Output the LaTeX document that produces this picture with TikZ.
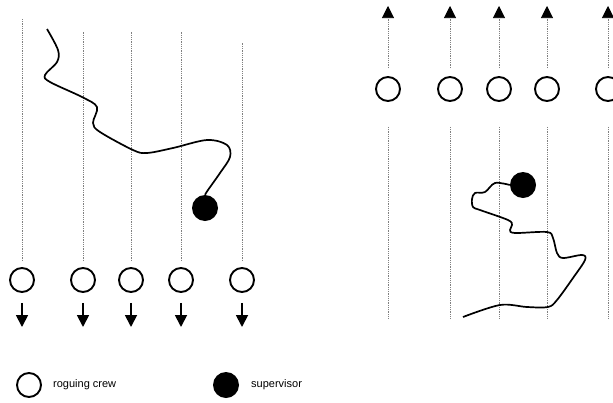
\documentclass[tikz,border=0pt]{standalone}
\usepackage{fontspec}
\setmainfont{Liberation Sans}
\usetikzlibrary{arrows.meta}

\tikzset{
  crew/.style={circle, draw, line width=1.9pt, minimum size=24pt, inner sep=0pt},
  boss/.style={circle, fill, minimum size=26pt, inner sep=0pt},
  row/.style={gray, line width=0.6pt, dash pattern=on 0.8pt off 1pt},
  tip/.style={-{Triangle[length=12pt,width=12pt,black]}},
  walk/.style={line width=1.8pt, tip},
  track/.style={line width=1.7pt},
  legend/.style={font=\fontsize{11}{13}\selectfont, anchor=west, inner sep=0pt}
}

\begin{document}
\begin{tikzpicture}[x=1pt, y=-1pt]
  \clip (0,0) rectangle (613,402);
  % left field: crew walks down, supervisor wanders behind
  \foreach \x/\t [count=\i] in {22/19,83/32,131/32,181/31,242/43} {
    \node[crew] (l\i) at (\x,280) {};
    \coordinate (lt\i) at (\x,\t);
    \coordinate (la\i) at (\x,327);
    \draw[row, shorten <=6pt] (l\i) -- (lt\i);
    \draw[walk, shorten <=10pt] (l\i) -- (la\i);
  }
  \node[boss] (ls) at (205,208) {};
  \draw[track] plot[smooth, tension=0.55] coordinates {(47,29) (58,50) (57,62) (45,75) (50,82)
    (82,97) (97,107) (93,123) (100,132) (133,150) (147,153) (173,148) (207,140)
    (227,145) (230,157) (220,173) (208,190) (ls.north)};

  % right field: crew walks up
  \foreach \x [count=\i] in {388,450,499,547,608} {
    \node[crew] (r\i) at (\x,89) {};
    \coordinate (rt\i) at (\x,6);
    \coordinate (rb\i) at (\x,318);
    \draw[row, tip, shorten <=8pt] (r\i) -- (rt\i);
    \draw[row, shorten <=25pt] (r\i) -- (rb\i);
  }
  \node[boss] (rs) at (523,185) {};
  \draw[track] plot[smooth, tension=0.55] coordinates {(rs.west) (495,183) (485,192) (475,193)
    (472,199) (473,207) (480,210) (508,220) (512,225) (510,230) (515,233) (547,232)
    (553,238) (557,253) (563,258) (582,255) (585,260) (573,278) (557,300) (548,307)
    (527,307) (500,305) (463,317)};

  % legend
  \node[crew] (kc) at (29,385) {};
  \node[legend] (kct) at (53,385) {roguing crew};
  \node[boss] (ks) at (226,385) {};
  \node[legend] (kst) at (251,385) {supervisor};
\end{tikzpicture}
\end{document}
